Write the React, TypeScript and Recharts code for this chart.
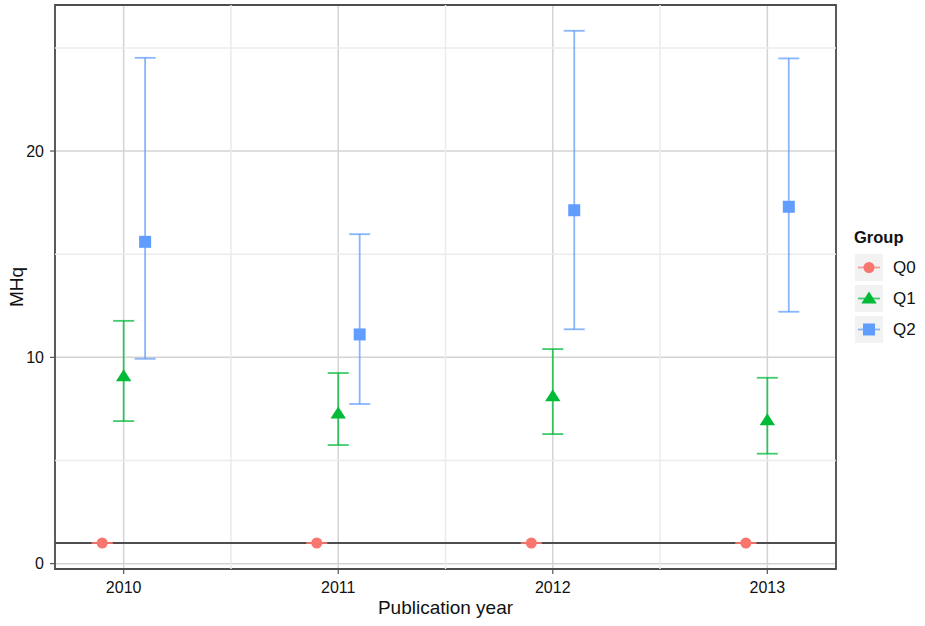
import React from "react";
import {
  ComposedChart,
  Scatter,
  ErrorBar,
  XAxis,
  YAxis,
  CartesianGrid,
  ReferenceLine,
  ReferenceArea,
} from "recharts";

const years = [2010, 2011, 2012, 2013];
const groups = ["Q0", "Q1", "Q2"];
const colors = ["#F8766D", "#00BA38", "#619CFF"];
const dodge = [-0.1, 0, 0.1];

const q0Mean = [1, 1, 1, 1];
const q0Low = [1, 1, 1, 1];
const q0High = [1, 1, 1, 1];

const q1Mean = [9.08, 7.28, 8.12, 6.95];
const q1Low = [6.91, 5.75, 6.28, 5.33];
const q1High = [11.77, 9.24, 10.4, 9.01];

const q2Mean = [15.6, 11.11, 17.13, 17.3];
const q2Low = [9.93, 7.74, 11.36, 12.21];
const q2High = [24.52, 15.97, 25.83, 24.49];

const xTicks = [2010, 2011, 2012, 2013];
const xMinor = [2010.5, 2011.5, 2012.5];
const yTicks = [0, 10, 20];
const yMinor = [5, 15, 25];
const xDomain = [2009.68, 2013.32];
const yDomain = [-0.26, 27.08];

const means = [q0Mean, q1Mean, q2Mean];
const lows = [q0Low, q1Low, q2Low];
const highs = [q0High, q1High, q2High];

const seriesData = groups.map((g, gi) =>
  years.map((yr, i) => ({
    x: yr + dodge[gi],
    y: means[gi][i],
    err: [means[gi][i] - lows[gi][i], highs[gi][i] - means[gi][i]],
  }))
);

const FONT = "Liberation Sans, Arial, Helvetica, sans-serif";

function Marker({ kind, cx, cy, color }: any) {
  if (kind === 0) return <circle cx={cx} cy={cy} r={5.5} fill={color} />;
  if (kind === 1)
    return (
      <polygon
        points={`${cx},${cy - 7} ${cx - 7.7},${cy + 5} ${cx + 7.7},${cy + 5}`}
        fill={color}
      />
    );
  return <rect x={cx - 6} y={cy - 6} width={12} height={12} fill={color} />;
}

function GroupLegend() {
  return (
    <div
      style={{
        position: "absolute",
        left: 854,
        top: 228,
        fontFamily: FONT,
        color: "#111",
      }}
    >
      <div style={{ fontWeight: "bold", fontSize: 16.5, height: 24 }}>Group</div>
      {groups.map((g, i) => (
        <div
          key={g}
          style={{ display: "flex", alignItems: "center", height: 31 }}
        >
          <svg width={29} height={27} style={{ display: "block" }}>
            <rect x={1} y={0} width={28} height={27} fill="#f2f2f2" />
            <line
              x1={4}
              x2={26}
              y1={13.5}
              y2={13.5}
              stroke={colors[i]}
              strokeOpacity={0.7}
              strokeWidth={1.8}
            />
            <Marker kind={i} cx={15} cy={13.5} color={colors[i]} />
          </svg>
          <span style={{ fontSize: 17, marginLeft: 10 }}>{g}</span>
        </div>
      ))}
    </div>
  );
}

export default function App() {
  return (
    <div
      style={{
        position: "absolute",
        left: 0,
        top: 0,
        width: 925,
        height: 626,
        background: "#fff",
      }}
    >
      <ComposedChart
        width={925}
        height={626}
        margin={{ top: 5, right: 89, bottom: 0, left: 0 }}
      >
        <CartesianGrid stroke="#d3d3d3" strokeWidth={1.5} />
        {xMinor.map((v) => (
          <ReferenceLine key={"vx" + v} x={v} stroke="#ebebeb" strokeWidth={1.5} />
        ))}
        {yMinor.map((v) => (
          <ReferenceLine key={"hy" + v} y={v} stroke="#ebebeb" strokeWidth={1.5} />
        ))}
        <XAxis
          type="number"
          dataKey="x"
          domain={xDomain}
          ticks={xTicks}
          allowDataOverflow
          height={57}
          tickSize={5}
          tickMargin={8}
          axisLine={false}
          tickLine={{ stroke: "#555", strokeWidth: 1.2 }}
          tick={{ fill: "#111", fontSize: 16, fontFamily: FONT }}
          label={{
            value: "Publication year",
            position: "insideBottom",
            offset: 12,
            fill: "#111",
            fontSize: 19,
            fontFamily: FONT,
          }}
        />
        <YAxis
          type="number"
          dataKey="y"
          domain={yDomain}
          ticks={yTicks}
          allowDataOverflow
          width={55}
          tickSize={5}
          tickMargin={6}
          axisLine={false}
          tickLine={{ stroke: "#555", strokeWidth: 1.2 }}
          tick={{ fill: "#111", fontSize: 16, fontFamily: FONT }}
          label={{
            content: (p: any) => {
              const vb = p.viewBox;
              const lx = vb.x + 16;
              const ly = vb.y + vb.height / 2;
              return (
                <text
                  x={lx}
                  y={ly}
                  transform={`rotate(-90 ${lx} ${ly})`}
                  textAnchor="middle"
                  dominantBaseline="central"
                  fill="#111"
                  fontSize={19}
                  fontFamily={FONT}
                >
                  MHq
                </text>
              );
            },
          }}
        />
        <ReferenceLine y={1} stroke="#4d4d4d" strokeWidth={1.8} />
        <ReferenceArea
          x1={xDomain[0]}
          x2={xDomain[1]}
          y1={yDomain[0]}
          y2={yDomain[1]}
          fill="none"
          fillOpacity={0}
          stroke="#4d4d4d"
          strokeWidth={1.8}
        />
        {groups.map((g, gi) => (
          <Scatter
            key={g}
            name={g}
            data={seriesData[gi]}
            isAnimationActive={false}
            shape={(p: any) => (
              <Marker kind={gi} cx={p.cx} cy={p.cy} color={colors[gi]} />
            )}
          >
            <ErrorBar
              dataKey="err"
              direction="y"
              width={10.5}
              stroke={colors[gi]}
              strokeOpacity={0.75}
              strokeWidth={1.8}
            />
          </Scatter>
        ))}
      </ComposedChart>
      <GroupLegend />
    </div>
  );
}
